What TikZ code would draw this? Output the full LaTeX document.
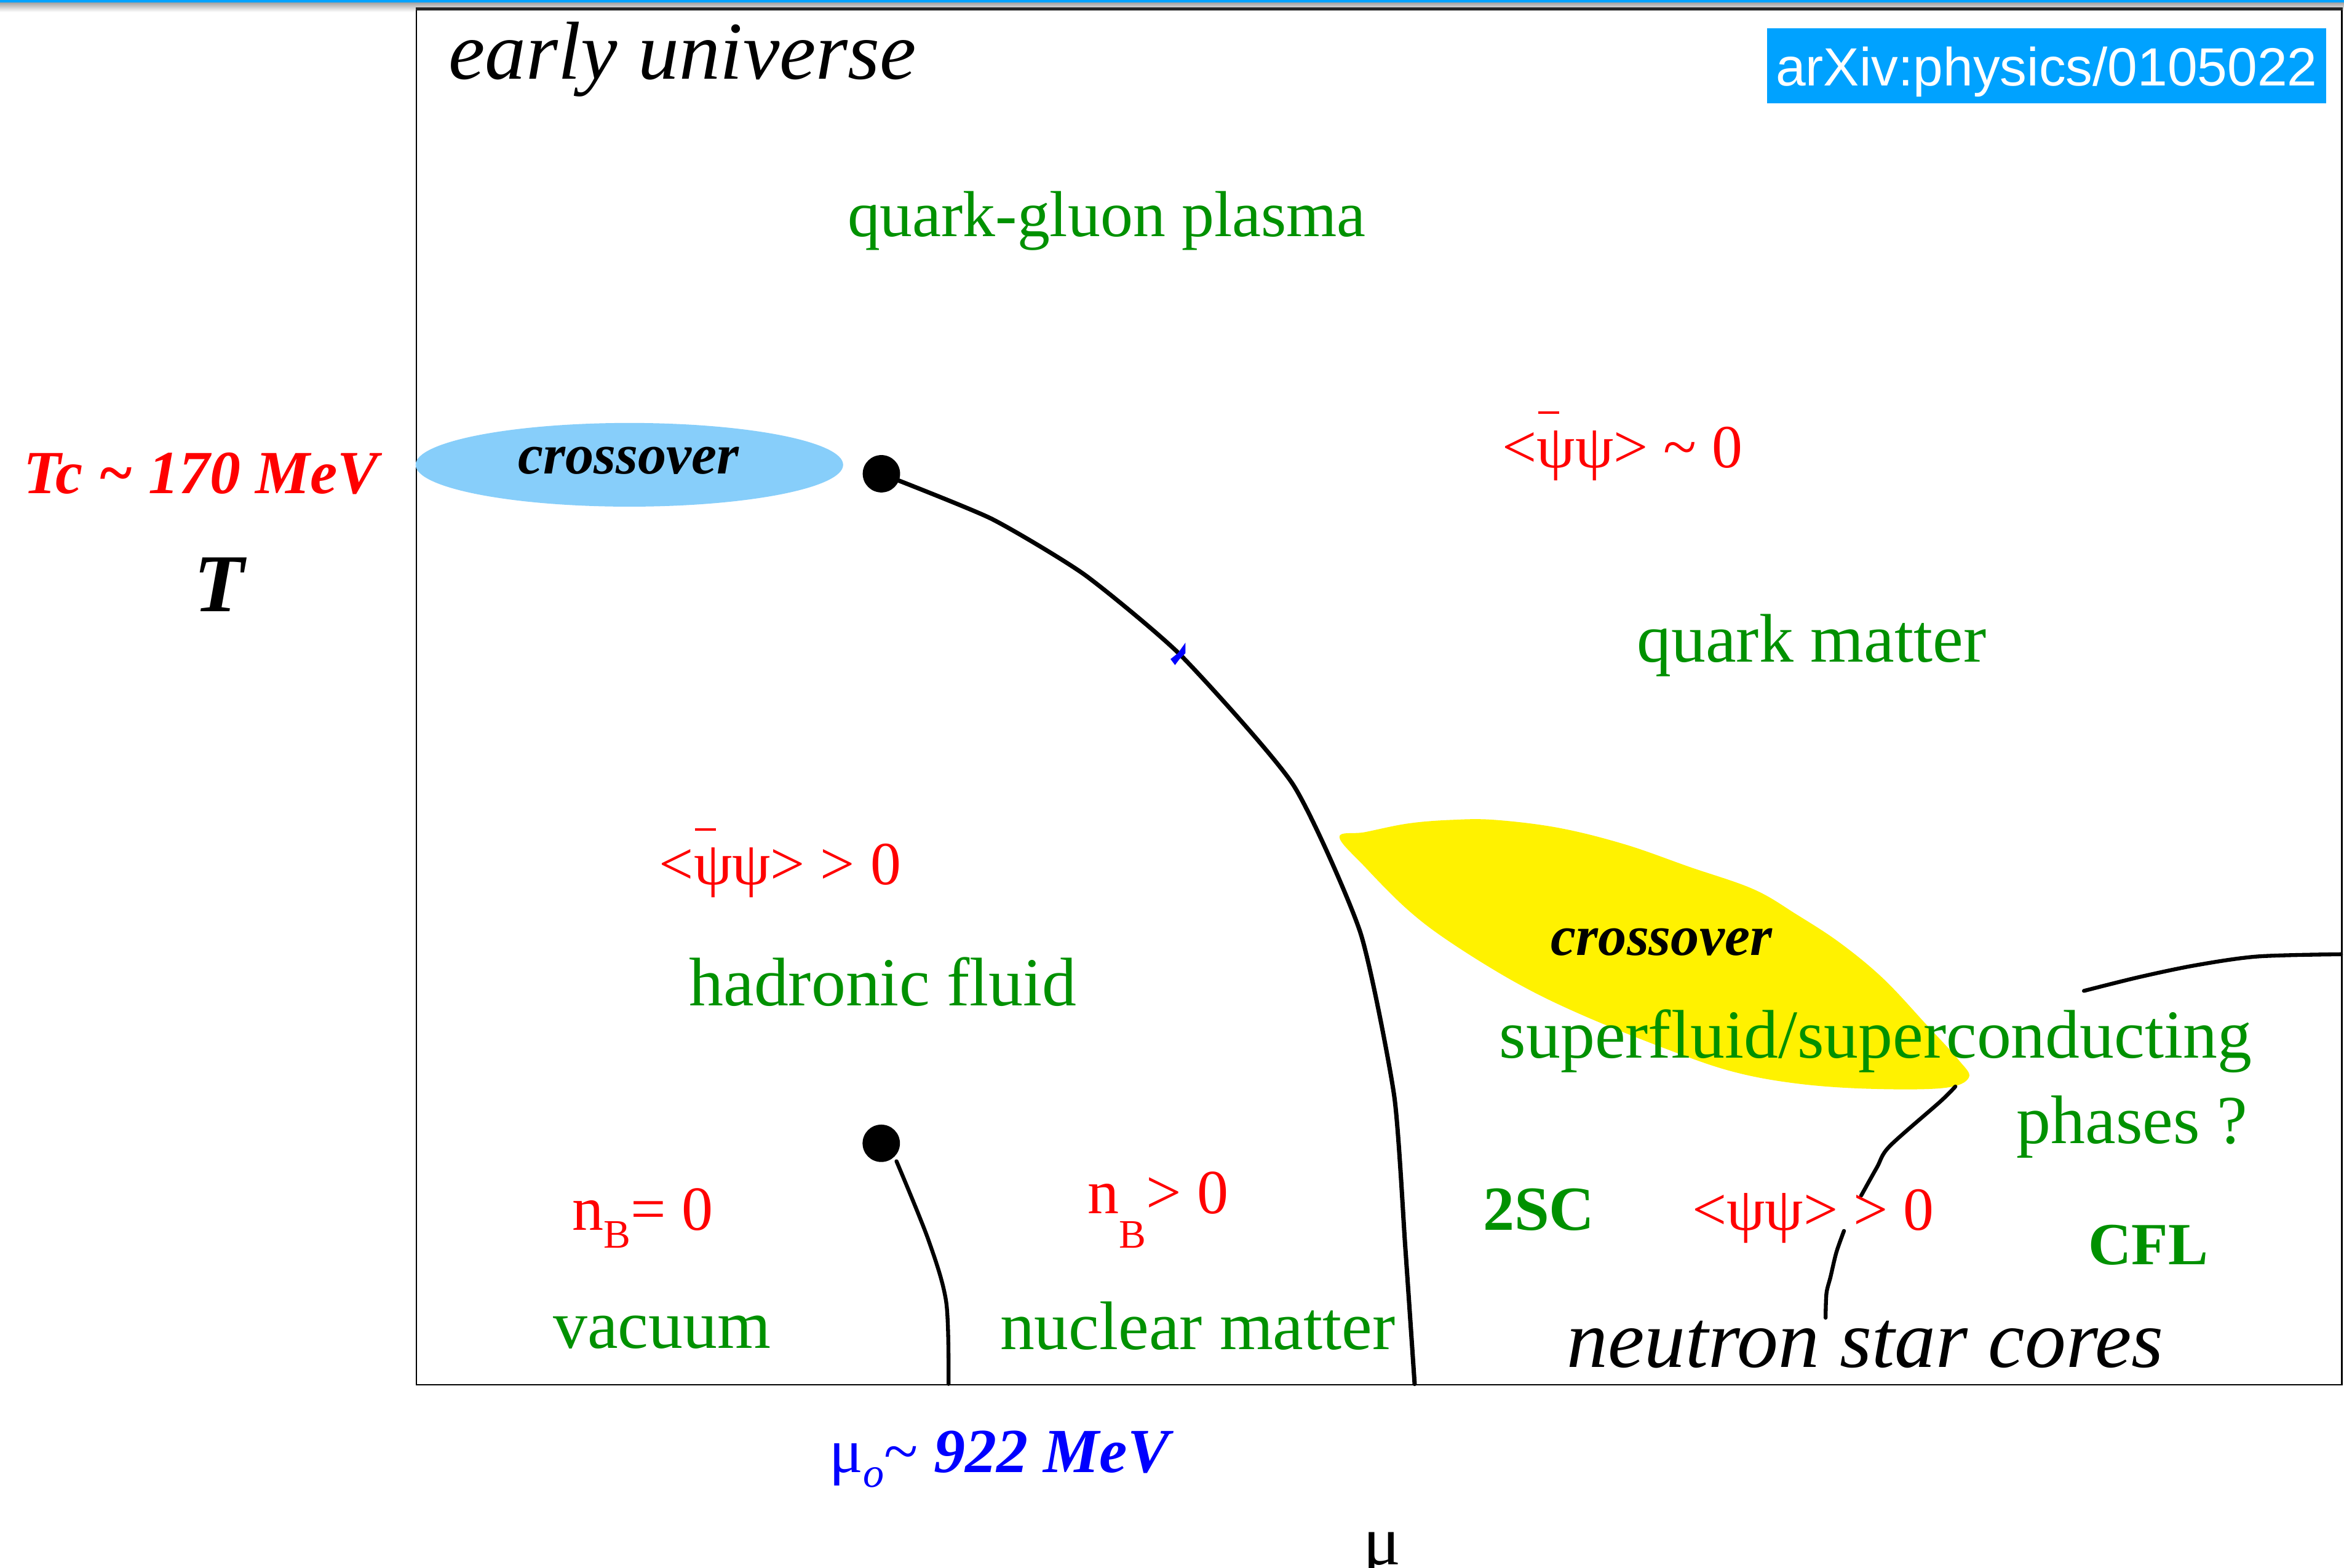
\documentclass[tikz,border=0pt]{standalone}
\usepackage{fontspec}
\setmainfont{Liberation Serif}
\newfontfamily\arxivfont{Liberation Sans}
\usetikzlibrary{shapes.geometric}
\definecolor{qgreen}{RGB}{0,145,0}
\definecolor{xblue}{RGB}{0,162,255}
\definecolor{skyb}{RGB}{135,206,250}
\newcommand\fsz[1]{\fontsize{#1}{#1}\selectfont}
\newcommand\psibar{\rlap{\kern0.02em\raisebox{0.88em}{\rule{0.34em}{0.045em}}}ψ}
\newcommand\subB[1]{\raisebox{#1}{\fsz{27}B}}
\begin{document}
\begin{tikzpicture}[x=1pt,y=-1pt,
  lbl/.style={inner sep=0pt, outer sep=0pt, anchor=base west},
  grn/.style={lbl, text=qgreen, font=\fsz{46}},
  redl/.style={lbl, text=red, font=\fsz{41}},
  ital/.style={lbl, text=black, font=\fsz{55}\itshape},
  bgrn/.style={lbl, text=qgreen, font=\fsz{42}\bfseries},
  coxt/.style={lbl, text=black, font=\fsz{38}\bfseries\itshape},
  pline/.style={line width=2.9pt, black, line join=round, line cap=round},
  dot/.style={circle, fill=black, inner sep=0pt, minimum size=25pt},
]
\useasboundingbox (0,0) rectangle (1568,1049);
\fill[white] (0,0) rectangle (1568,1049);
% top window edge
\shade[top color=gray!75, bottom color=white] (0,1.5) rectangle (1568,8);
\fill[xblue] (0,0) rectangle (1568,1.7);
% frame
\node[draw, line width=1pt, minimum width=1288pt, minimum height=920pt, inner sep=0pt, anchor=north west] (frame) at (278,6) {};
\draw[line width=2.2pt, black!85] (frame.north west) -- (frame.north east);
% arXiv label
\node[fill=xblue, minimum width=374pt, minimum height=50pt, inner sep=0pt] (arxiv) at (1369,44) {};
\node[inner sep=0pt, anchor=base, text=white, font=\arxivfont\fsz{36}] (arxivt) at (1369,57.6) {arXiv:physics/0105022};
% crossover regions
\node[ellipse, fill=skyb, minimum width=286pt, minimum height=56pt, inner sep=0pt] (xover1) at (421,311) {};
\fill[yellow] plot[smooth cycle, tension=0.6] coordinates {(896,560) (913,556.8) (942,551) (971,548.6) (1000,548.6) (1043,554) (1087,565) (1130,580) (1173,595) (1202,612) (1231,631) (1260,655) (1289,686) (1310,709) (1317,721) (1300,728) (1250,728.5) (1202,725) (1159,717) (1115,702) (1058,679) (1015,658) (971,631) (942,609) (913,580)};
% phase boundaries
\coordinate (cpA) at (589.6,317);
\coordinate (endA) at (946.3,926);
\draw[pline] plot[smooth, tension=0.35] coordinates {(cpA) (663,347) (725.6,384.6) (790.4,439) (865,525) (910,624) (932.6,733) (940,833.8) (endA)};
\coordinate (cpB) at (589.5,765);
\coordinate (cpBe) at (599.7,777);
\coordinate (endB) at (634.5,926);
\draw[pline, line width=2.6pt] plot[smooth, tension=0.5] coordinates {(cpBe) (621,829.5) (633,871.6) (endB)};
\draw[pline, line width=2.6pt] plot[smooth] coordinates {(1308,727) (1298,737) (1264,767) (1255.6,781) (1245,800)};
\draw[pline, line width=2.6pt] plot[smooth] coordinates {(1233.5,823.6) (1228.4,838) (1224.5,854.4) (1221.8,865.3) (1221.2,881.7)};
\draw[pline, line width=2.6pt] plot[smooth] coordinates {(1394,663) (1430,654) (1468,646) (1510,640) (1566,638.5)};
\fill[blue] (783,441) -- (788,437) -- (793,430) -- (793,437) -- (789,441) -- (786,445) -- cycle;
\node[dot] (dotA) at (cpA) {};
\node[dot] (dotB) at (cpB) {};
% texts
\node[ital] (early) at (300,53) {early universe};
\node[grn, font=\fsz{43.5}] (qgp) at (567,158) {quark-gluon plasma};
\node[redl] (cond1) at (1005,313) {<\psibar ψ> \textasciitilde{} 0};
\node[grn] (qm) at (1095,443) {quark matter};
\node[redl] (cond2) at (441,592) {<\psibar ψ> > 0};
\node[grn] (hf) at (461,673) {hadronic fluid};
\node[coxt] (xt1) at (346.5,317) {crossover};
\node[coxt] (xt2) at (1037.6,639) {crossover};
\node[grn] (sf) at (1003,708) {superfluid/superconducting};
\node[grn] (ph) at (1349,765) {phases ?};
\node[bgrn] (tsc) at (992,823) {2SC};
\node[redl] (cond3) at (1132,823) {<ψψ> > 0};
\node[bgrn, font=\fsz{40}\bfseries] (cfl) at (1397,846) {CFL};
\node[redl, font=\fsz{42}] (nb0) at (383,823) {n\subB{-12pt}= 0};
\node[redl, font=\fsz{42}] (nb1) at (727.5,812) {n\subB{-23pt}> 0};
\node[grn] (vac) at (370,902) {vacuum};
\node[grn] (nm) at (669,903) {nuclear matter};
\node[ital] (nsc) at (1048,915) {neutron star cores};
\node[lbl, text=red, font=\fsz{41}\bfseries\itshape] (tc) at (16,330) {Tc \textasciitilde{} 170 MeV};
\node[lbl, text=black, font=\fsz{55}\bfseries\itshape] (tax) at (130,409) {T};
\node[lbl, text=blue, font=\fsz{42}] (mu0) at (555,985) {μ\raisebox{-10pt}{\fsz{28}\itshape o}\textasciitilde{} {\bfseries\itshape 922 MeV}};
\node[lbl, text=black, font=\fsz{47}] (muax) at (912,1047) {μ};
\end{tikzpicture}
\end{document}
